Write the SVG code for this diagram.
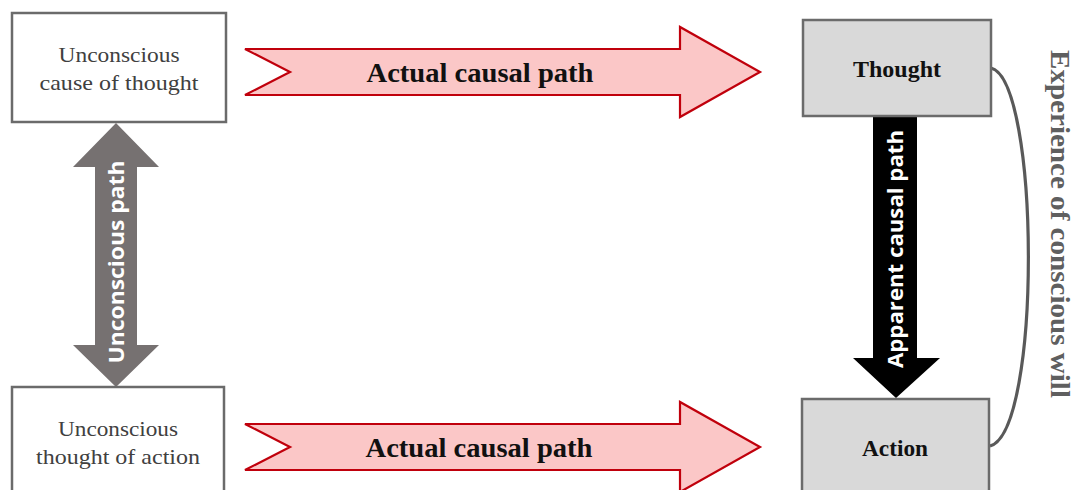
<svg xmlns="http://www.w3.org/2000/svg" width="1078" height="490" viewBox="0 0 1078 490">
  <style>
    .box { fill: #ffffff; stroke: #6b6b6b; stroke-width: 2.5; }
    .gbox { fill: #d9d9d9; stroke: #6b6b6b; stroke-width: 2.5; }
    .serif { font-family: "Liberation Serif", "Times New Roman", serif; }
    .lbl { font-size: 22px; fill: #404040; text-anchor: middle; }
    .blbl { font-size: 23px; font-weight: bold; fill: #111111; text-anchor: middle; }
    .red { fill: #fbc7c7; stroke: #c0000c; stroke-width: 2.2; stroke-linejoin: miter; }
    .redtxt { font-size: 27px; font-weight: bold; fill: #111111; text-anchor: middle; }
    .sans { font-family: "Open Sans", "Liberation Sans", Arial, sans-serif; font-weight: bold; fill: #ffffff; text-anchor: middle; font-size: 22px; }
    .will { font-size: 27px; font-weight: bold; fill: #5f5f5f; text-anchor: middle; }
  </style>

  <!-- connectors -->
  <g id="connectors">
    <!-- actual causal path: cause -> thought -->
    <polygon class="red" points="245,49 680,49 680,27 760,72 680,117 680,95 245,95 290,72"/>
    <text class="serif redtxt" x="480" y="82" textLength="227" lengthAdjust="spacingAndGlyphs">Actual causal path</text>

    <!-- actual causal path: thought of action -> action -->
    <polygon class="red" points="245,424 680,424 680,402 760,447 680,492 680,470 245,470 290,447"/>
    <text class="serif redtxt" x="479" y="457" textLength="227" lengthAdjust="spacingAndGlyphs">Actual causal path</text>

    <!-- unconscious path (double-headed) -->
    <polygon fill="#767171" points="116,123 159,167 137,167 137,345 159,345 116,387 73,345 95,345 95,167 73,167"/>
    <text class="sans" transform="translate(124,262) rotate(-90)" textLength="203" lengthAdjust="spacingAndGlyphs">Unconscious path</text>

    <!-- apparent causal path -->
    <polygon fill="#000000" points="873,116 917,116 917,358 940,358 896,398 853,358 873,358"/>
    <text class="sans" transform="translate(903,249) rotate(-90)" textLength="238" lengthAdjust="spacingAndGlyphs">Apparent causal path</text>

    <!-- experience of conscious will bracket -->
    <path d="M991,68 C1040,80 1042,432 990,446" fill="none" stroke="#595959" stroke-width="3.2"/>
    <text class="serif will" transform="translate(1051,224) rotate(90)" textLength="348" lengthAdjust="spacingAndGlyphs">Experience of conscious will</text>
  </g>

  <g id="cause-of-thought">
    <rect class="box" x="12" y="13" width="214" height="109"/>
    <text class="serif lbl" x="119" y="62" textLength="121" lengthAdjust="spacingAndGlyphs">Unconscious</text>
    <text class="serif lbl" x="119" y="90" textLength="159" lengthAdjust="spacingAndGlyphs">cause of thought</text>
  </g>

  <g id="thought-of-action">
    <rect class="box" x="12" y="387" width="212" height="112"/>
    <text class="serif lbl" x="118" y="436" textLength="120" lengthAdjust="spacingAndGlyphs">Unconscious</text>
    <text class="serif lbl" x="118" y="464" textLength="164" lengthAdjust="spacingAndGlyphs">thought of action</text>
  </g>

  <g id="thought">
    <rect class="gbox" x="803" y="20" width="188" height="96"/>
    <text class="serif blbl" x="897" y="77" textLength="88" lengthAdjust="spacingAndGlyphs">Thought</text>
  </g>

  <g id="action">
    <rect class="gbox" x="802" y="399" width="187" height="100"/>
    <text class="serif blbl" x="895" y="456" textLength="66" lengthAdjust="spacingAndGlyphs">Action</text>
  </g>
</svg>
